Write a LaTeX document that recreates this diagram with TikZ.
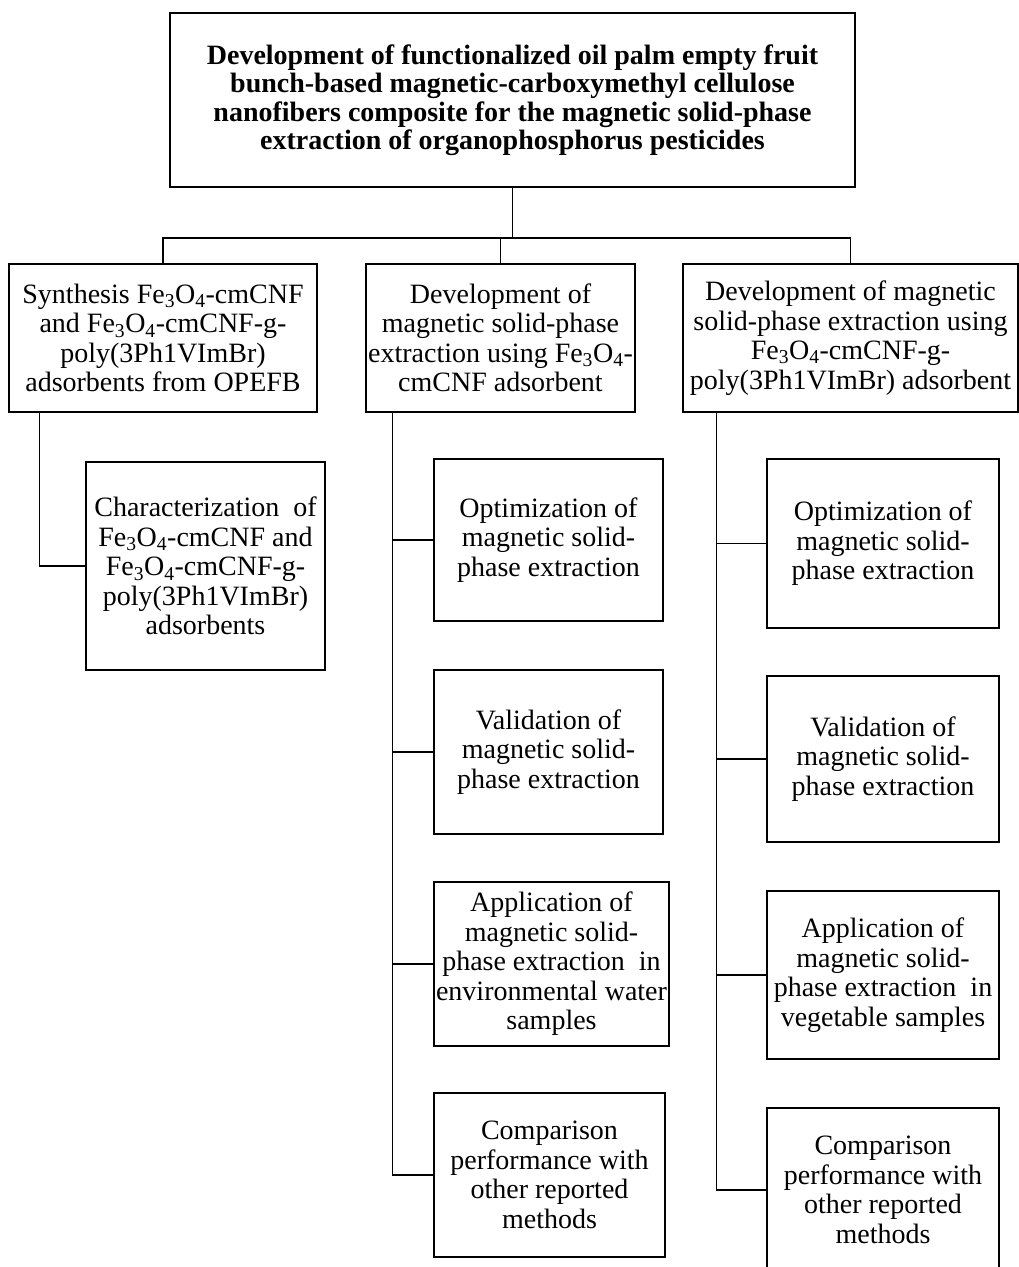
\documentclass[tikz,border=0pt]{standalone}
\usepackage{fontspec}
\setmainfont{Liberation Serif}
\usetikzlibrary{positioning}
\newcommand{\feo}{Fe\textsubscript{3}O\textsubscript{4}}

\begin{document}
\begin{tikzpicture}[x=1pt,y=-1pt,
  box/.style={draw,line width=1.4pt,align=center,inner sep=0pt,font=\fontsize{28}{29.5}\selectfont},
  lnk/.style={line width=1.3pt}]
\useasboundingbox (0,0) rectangle (1019,1267);
\clip (0,0) rectangle (1019,1267);
\node[box,minimum width=685,minimum height=174,font=\bfseries\fontsize{28}{28.5}\selectfont] (goal) at (512.5,100)
  {Development of functionalized oil palm empty fruit\\ bunch-based magnetic-carboxymethyl cellulose\\ nanofibers composite for the magnetic solid-phase\\ extraction of organophosphorus pesticides};
\node[box,minimum width=308,minimum height=148] (syn) at (163,338)
  {Synthesis \feo-cmCNF\\ and \feo-cmCNF-g-\\ poly(3Ph1VImBr)\\ adsorbents from OPEFB};
\node[box,minimum width=269,minimum height=148] (devA) at (500.5,338)
  {Development of\\ magnetic solid-phase\\ extraction using \feo-\\ cmCNF adsorbent};
\node[box,minimum width=335,minimum height=148] (devB) at (850.5,338)
  {Development of magnetic\\ solid-phase extraction using\\ \feo-cmCNF-g-\\ poly(3Ph1VImBr) adsorbent};
\node[box,minimum width=239,minimum height=208] (chr) at (205.5,566)
  {Characterization\ \ of\\ \feo-cmCNF and\\ \feo-cmCNF-g-\\ poly(3Ph1VImBr)\\ adsorbents};
\node[box,minimum width=229,minimum height=162] (optA) at (548.5,540)
  {Optimization of\\ magnetic solid-\\ phase extraction};
\node[box,minimum width=229,minimum height=164] (valA) at (548.5,752)
  {Validation of\\ magnetic solid-\\ phase extraction};
\node[box,minimum width=235,minimum height=164] (appA) at (551.5,964)
  {Application of\\ magnetic solid-\\ phase extraction\ \ in\\ environmental water\\ samples};
\node[box,minimum width=231,minimum height=164] (cmpA) at (549.5,1175)
  {Comparison\\ performance with\\ other reported\\ methods};
\node[box,minimum width=232,minimum height=169] (optB) at (883,543.5)
  {Optimization of\\ magnetic solid-\\ phase extraction};
\node[box,minimum width=232,minimum height=166] (valB) at (883,759)
  {Validation of\\ magnetic solid-\\ phase extraction};
\node[box,minimum width=232,minimum height=168] (appB) at (883,975)
  {Application of\\ magnetic solid-\\ phase extraction\ \ in\\ vegetable samples};
\node[box,minimum width=232,minimum height=164] (cmpB) at (883,1190)
  {Comparison\\ performance with\\ other reported\\ methods};
\coordinate (bus) at (512.5,238);
\draw[lnk] (goal) -- (bus);
\draw[lnk] (syn.north) |- (bus) -| (devB.north);
\draw[lnk] (devA.north) -- (devA.north |- bus);
\draw[lnk] ([xshift=31]syn.south west) |- (chr.west);
\coordinate (spA) at ([xshift=27]devA.south west);
\coordinate (spB) at ([xshift=34]devB.south west);
\draw[lnk] (spA) |- (cmpA.west);
\draw[lnk] (spB) |- (cmpB.west);
\foreach \n in {optA,valA,appA}
  \draw[lnk] (spA |- \n.west) -- (\n.west);
\foreach \n in {optB,valB,appB}
  \draw[lnk] (spB |- \n.west) -- (\n.west);
\end{tikzpicture}
\end{document}
